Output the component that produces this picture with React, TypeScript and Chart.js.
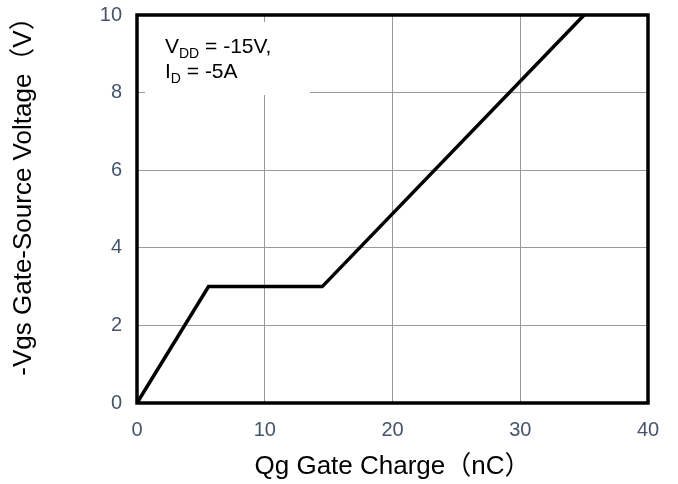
import React, { useEffect, useRef } from 'react';
import { Chart, registerables } from 'chart.js';

Chart.register(...registerables);

// Gate charge curve
const qgCharge = [0, 5.6, 14.5, 35.0];
const vgsVoltage = [0, 3, 3, 10];

const xTickValues = [0, 10, 20, 30, 40];
const yTickValues = [0, 2, 4, 6, 8, 10];

const xTitle = 'Qg Gate Charge（nC）';
const yTitle = '-Vgs Gate-Source Voltage（V）';

// condition note: main letter, subscript, rest
const noteLines = [
  { main: 'V', sub: 'DD', rest: ' = -15V,' },
  { main: 'I', sub: 'D', rest: ' = -5A' },
];

const FONT = '"Liberation Sans", Arial, "Noto Sans CJK SC", sans-serif';
const TICK_COLOR = '#44546a';

const framePlugin = {
  id: 'frame',
  beforeDatasetsDraw(chart: Chart) {
    const { ctx, chartArea: a } = chart;
    ctx.save();
    // white box behind the note hides the grid lines
    ctx.fillStyle = '#ffffff';
    ctx.fillRect(a.left + 8, a.top + 7, 165, 73);
    ctx.fillStyle = '#000000';
    ctx.textBaseline = 'alphabetic';
    ctx.textAlign = 'left';
    noteLines.forEach((ln, i) => {
      let x = a.left + 28;
      const y = a.top + 38 + i * 25;
      ctx.font = `21px ${FONT}`;
      ctx.fillText(ln.main, x, y);
      x += ctx.measureText(ln.main).width;
      ctx.font = `14px ${FONT}`;
      ctx.fillText(ln.sub, x, y + 5);
      x += ctx.measureText(ln.sub).width;
      ctx.font = `21px ${FONT}`;
      ctx.fillText(ln.rest, x, y);
    });
    ctx.restore();
  },
  afterDatasetsDraw(chart: Chart) {
    const { ctx, chartArea: a } = chart;
    ctx.save();
    ctx.strokeStyle = '#000000';
    ctx.lineWidth = 3.5;
    ctx.strokeRect(a.left, a.top, a.right - a.left, a.bottom - a.top);
    // y axis title, not centred on the plot in the original
    ctx.translate(24, 190);
    ctx.rotate(-Math.PI / 2);
    ctx.font = `26px ${FONT}`;
    ctx.fillStyle = '#000000';
    ctx.textAlign = 'center';
    ctx.textBaseline = 'middle';
    ctx.fillText(yTitle, 0, 0);
    ctx.restore();
  },
};

export default function App() {
  const canvasRef = useRef<HTMLCanvasElement | null>(null);

  useEffect(() => {
    document.body.style.margin = '0';
    if (!canvasRef.current) return;

    const chart = new Chart(canvasRef.current, {
      type: 'scatter',
      data: {
        datasets: [
          {
            data: qgCharge.map((q, i) => ({ x: q, y: vgsVoltage[i] })),
            showLine: true,
            borderColor: '#000000',
            borderWidth: 3.5,
            pointRadius: 0,
            tension: 0,
            clip: false,
          },
        ],
      },
      options: {
        animation: false,
        responsive: false,
        maintainAspectRatio: false,
        layout: { padding: { left: 0, right: 30, top: 15, bottom: 0 } },
        plugins: {
          legend: { display: false },
          tooltip: { enabled: false },
        },
        scales: {
          x: {
            type: 'linear',
            min: 0,
            max: 40,
            afterFit: (scale: any) => {
              scale.height = 81;
            },
            afterBuildTicks: (scale: any) => {
              scale.ticks = xTickValues.map(v => ({ value: v }));
            },
            grid: { color: '#999999', lineWidth: 1, drawTicks: false },
            border: { display: false },
            ticks: {
              color: TICK_COLOR,
              font: { family: FONT, size: 20 },
              padding: 15,
              maxRotation: 0,
            },
            title: {
              display: true,
              text: xTitle,
              color: '#000000',
              font: { family: FONT, size: 26 },
              padding: { top: 0, bottom: 2 },
            },
          },
          y: {
            type: 'linear',
            min: 0,
            max: 10,
            afterFit: (scale: any) => {
              scale.width = 137;
              // keep the top label overflow from pushing the plot down
              scale.paddingTop = 0;
              scale.paddingBottom = 0;
            },
            afterBuildTicks: (scale: any) => {
              scale.ticks = yTickValues.map(v => ({ value: v }));
            },
            grid: { color: '#999999', lineWidth: 1, drawTicks: false },
            border: { display: false },
            ticks: {
              color: TICK_COLOR,
              font: { family: FONT, size: 20 },
              padding: 15,
            },
          },
        },
      },
      plugins: [framePlugin],
    });

    return () => {
      chart.destroy();
    };
  }, []);

  return (
    <div style={{ width: 678, height: 484, background: '#ffffff' }}>
      <canvas ref={canvasRef} width={678} height={484} style={{ width: 678, height: 484 }} />
    </div>
  );
}
